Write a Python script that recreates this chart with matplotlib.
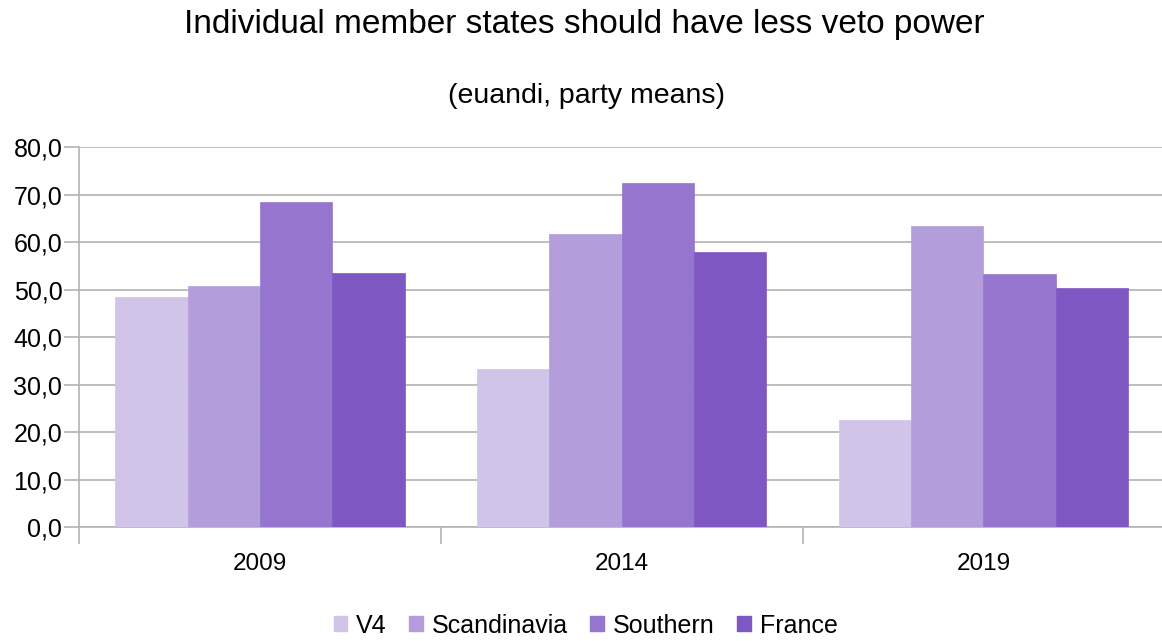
import matplotlib
matplotlib.use("Agg")
import matplotlib.pyplot as plt
import numpy as np
from matplotlib.ticker import FuncFormatter

plt.rcParams['font.family'] = ['Liberation Sans', 'DejaVu Sans']

years = ["2009", "2014", "2019"]
series = ["V4", "Scandinavia", "Southern", "France"]
v4 = [48.4, 33.2, 22.5]
scandinavia = [50.7, 61.8, 63.4]
southern = [68.4, 72.4, 53.3]
france = [53.5, 57.9, 50.3]
colors = ["#d1c4e9", "#b39ddb", "#9575cd", "#7e57c2"]

values = [v4, scandinavia, southern, france]

fig = plt.figure(figsize=(11.62, 6.41), dpi=100)
ax = fig.add_axes([0.068, 0.1778, 0.9340, 0.5924])

x = np.arange(len(years))
width = 0.2
for i, (name, vals, c) in enumerate(zip(series, values, colors)):
    ax.bar(x + (i - 1.5) * width, vals, width, color=c, label=name,
           edgecolor=c, linewidth=0.5, zorder=3)

ax.set_ylim(0, 80)
ax.set_xlim(-0.5, len(years) - 0.5)
ax.set_yticks(np.arange(0, 81, 10))
ax.yaxis.set_major_formatter(FuncFormatter(lambda v, p: f"{v:.1f}".replace(".", ",")))
ax.grid(axis='y', color='#b3b3b3', linewidth=1.2, zorder=0)

ax.set_xticks(x)
ax.set_xticklabels(years)
ax.set_xticks([-0.5, 0.5, 1.5, 2.5], minor=True)
ax.tick_params(axis='x', which='major', length=0, pad=19, labelsize=17.5)
ax.tick_params(axis='x', which='minor', length=12, color='#b3b3b3', width=1.2)
ax.tick_params(axis='y', length=11, color='#b3b3b3', width=1.2, pad=1, labelsize=18)

for s in ['top', 'right']:
    ax.spines[s].set_visible(False)
for s in ['left', 'bottom']:
    ax.spines[s].set_color('#b3b3b3')
    ax.spines[s].set_linewidth(1.2)

fig.text(0.503, 0.962, "Individual member states should have less veto power",
         ha='center', va='center', fontsize=24)
fig.text(0.505, 0.85, "(euandi, party means)", ha='center', va='center', fontsize=20.5)

handles = [plt.Rectangle((0, 0), 1, 1, color=c) for c in colors]
fig.legend(handles, series, loc='center', bbox_to_anchor=(0.504, 0.024), ncol=4,
           frameon=False, fontsize=18, handlelength=0.55, handleheight=0.55,
           handletextpad=0.35, columnspacing=0.9)

fig.savefig("out.png", dpi=100)
